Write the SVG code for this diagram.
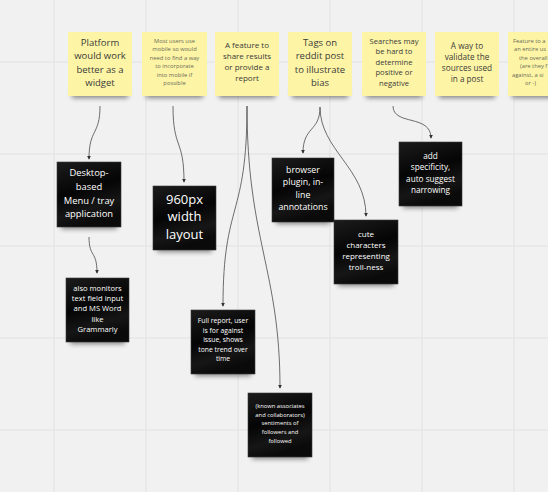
<svg xmlns="http://www.w3.org/2000/svg" width="548" height="492" viewBox="0 0 548 492">
<defs>
<style>
.grid{stroke:#e1e1e1;stroke-width:1}
.sticky{fill:#fdf5a5}
.dark{fill:url(#dk);stroke:#3a3a3a;stroke-width:0.6}
.shadow{fill:#000;opacity:0.45;filter:url(#blur)}
.yt{font-family:"Open Sans","Noto Sans",sans-serif;fill:#3a3a3a;text-anchor:middle}
.yt2{font-family:"Open Sans","Noto Sans",sans-serif;fill:#6a6a5a;text-anchor:middle}
.wt{font-family:"Open Sans","Noto Sans",sans-serif;fill:#ffffff;text-anchor:middle}
.conn{fill:none;stroke:#4a4a4a;stroke-width:0.8;marker-end:url(#arr)}
</style>
<linearGradient id="dk" x1="0" y1="0" x2="0.3" y2="1">
<stop offset="0" stop-color="#1c1c1c"/>
<stop offset="0.5" stop-color="#050505"/>
<stop offset="0.8" stop-color="#161616"/>
<stop offset="1" stop-color="#0a0a0a"/>
</linearGradient>
<filter id="blur" x="-30%" y="-100%" width="160%" height="300%"><feGaussianBlur stdDeviation="2.5"/></filter>
<marker id="arr" viewBox="0 0 6 6" refX="5" refY="3" markerWidth="4" markerHeight="4" markerUnits="userSpaceOnUse" orient="auto"><path d="M0,0 L6,3 L0,6 z" fill="#333"/></marker>
</defs>
<rect width="548" height="492" fill="#f1f1f1"/>
<g id="grid">
<line class="grid" x1="54" y1="0" x2="54" y2="492"/>
<line class="grid" x1="146" y1="0" x2="146" y2="492"/>
<line class="grid" x1="238" y1="0" x2="238" y2="492"/>
<line class="grid" x1="330" y1="0" x2="330" y2="492"/>
<line class="grid" x1="422" y1="0" x2="422" y2="492"/>
<line class="grid" x1="514" y1="0" x2="514" y2="492"/>
<line class="grid" x1="0" y1="62" x2="548" y2="62"/>
<line class="grid" x1="0" y1="154" x2="548" y2="154"/>
<line class="grid" x1="0" y1="246" x2="548" y2="246"/>
<line class="grid" x1="0" y1="338" x2="548" y2="338"/>
<line class="grid" x1="0" y1="430" x2="548" y2="430"/>
</g>
<g id="connectors">
<path class="conn" d="M100,106 C100,136 89,128 89,159"/>
<path class="conn" d="M89,237 C89,258 97,250 97,273"/>
<path class="conn" d="M173,106 C173,150 184,138 184,182"/>
<path class="conn" d="M247,106 C247,220 223,200 223,306"/>
<path class="conn" d="M247,106 C247,240 280,270 280,388"/>
<path class="conn" d="M320,107 C320,132 303,126 303,153"/>
<path class="conn" d="M320,107 C320,150 366,168 366,216"/>
<path class="conn" d="M393,106 C393,126 431,114 431,138"/>
</g>
<g id="n-platform">
<rect class="shadow" x="72" y="88" width="56" height="10"/>
<rect class="sticky" x="68" y="32" width="64" height="64"/>
<text class="yt" font-size="9.5"><tspan x="100" y="45.5">Platform</tspan><tspan x="100" y="59">would work</tspan><tspan x="100" y="72.5">better as a</tspan><tspan x="100" y="86">widget</tspan></text>
</g>
<g id="n-mobile">
<rect class="shadow" x="146" y="88" width="57" height="10"/>
<rect class="sticky" x="142" y="32" width="65" height="64"/>
<text class="yt2" font-size="5.8"><tspan x="174.5" y="43">Most users use</tspan><tspan x="174.5" y="51.4">mobile so would</tspan><tspan x="174.5" y="59.8">need to find a way</tspan><tspan x="174.5" y="68.2">to incorporate</tspan><tspan x="174.5" y="76.6">into mobile if</tspan><tspan x="174.5" y="85">possible</tspan></text>
</g>
<g id="n-report">
<rect class="shadow" x="219" y="88" width="56" height="10"/>
<rect class="sticky" x="215" y="32" width="64" height="64"/>
<text class="yt" font-size="8"><tspan x="247" y="48">A feature to</tspan><tspan x="247" y="59">share results</tspan><tspan x="247" y="70">or provide a</tspan><tspan x="247" y="81">report</tspan></text>
</g>
<g id="n-tags">
<rect class="shadow" x="292" y="88" width="56" height="10"/>
<rect class="sticky" x="288" y="32" width="64" height="64"/>
<text class="yt" font-size="9.5"><tspan x="320" y="45.5">Tags on</tspan><tspan x="320" y="59">reddit post</tspan><tspan x="320" y="72.5">to illustrate</tspan><tspan x="320" y="86">bias</tspan></text>
</g>
<g id="n-searches">
<rect class="shadow" x="366" y="88" width="56" height="10"/>
<rect class="sticky" x="362" y="32" width="64" height="64"/>
<text class="yt" font-size="7.6"><tspan x="394" y="43.7">Searches may</tspan><tspan x="394" y="54.2">be hard to</tspan><tspan x="394" y="64.7">determine</tspan><tspan x="394" y="75.2">positive or</tspan><tspan x="394" y="85.7">negative</tspan></text>
</g>
<g id="n-validate">
<rect class="shadow" x="439" y="88" width="56" height="10"/>
<rect class="sticky" x="435" y="32" width="64" height="64"/>
<text class="yt" font-size="8.2"><tspan x="467" y="49">A way to</tspan><tspan x="467" y="60">validate the</tspan><tspan x="467" y="71">sources used</tspan><tspan x="467" y="82">in a post</tspan></text>
</g>
<g id="n-feature">
<rect class="shadow" x="512" y="88" width="56" height="10"/>
<rect class="sticky" x="508" y="32" width="64" height="64"/>
<text class="yt2" font-size="5.8" style="text-anchor:start"><tspan x="513" y="43">Feature to a</tspan><tspan x="514" y="51.4">an entire us</tspan><tspan x="519" y="59.8">the overall</tspan><tspan x="520" y="68.2">(are they f</tspan><tspan x="512" y="76.6">against, a si</tspan><tspan x="525" y="85">or -)</tspan></text>
</g>
<g id="n-desktop">
<rect class="shadow" x="61" y="219" width="56" height="10"/>
<rect class="dark" x="57" y="162" width="64" height="65"/>
<text class="wt" font-size="9.4"><tspan x="89" y="176.3">Desktop-</tspan><tspan x="89" y="190">based</tspan><tspan x="89" y="203.5">Menu / tray</tspan><tspan x="89" y="217">application</tspan></text>
</g>
<g id="n-960">
<rect class="shadow" x="157" y="242" width="55" height="10"/>
<rect class="dark" x="153" y="186" width="63" height="64"/>
<text class="wt" font-size="13"><tspan x="184.5" y="203.5">960px</tspan><tspan x="184.5" y="221">width</tspan><tspan x="184.5" y="238.5">layout</tspan></text>
</g>
<g id="n-browser">
<rect class="shadow" x="276" y="214" width="54" height="10"/>
<rect class="dark" x="272" y="158" width="62" height="64"/>
<text class="wt" font-size="8.8"><tspan x="303" y="173">browser</tspan><tspan x="303" y="185.3">plugin, in-</tspan><tspan x="303" y="197.6">line</tspan><tspan x="303" y="210">annotations</tspan></text>
</g>
<g id="n-cute">
<rect class="shadow" x="338" y="276" width="56" height="10"/>
<rect class="dark" x="334" y="220" width="64" height="64"/>
<text class="wt" font-size="8"><tspan x="366" y="236.8">cute</tspan><tspan x="366" y="247.8">characters</tspan><tspan x="366" y="258.8">representing</tspan><tspan x="366" y="269.8">troll-ness</tspan></text>
</g>
<g id="n-add">
<rect class="shadow" x="403" y="198" width="55" height="10"/>
<rect class="dark" x="399" y="142" width="63" height="64"/>
<text class="wt" font-size="8.2"><tspan x="430.5" y="158.9">add</tspan><tspan x="430.5" y="170.2">specificity,</tspan><tspan x="430.5" y="181.5">auto suggest</tspan><tspan x="430.5" y="192.8">narrowing</tspan></text>
</g>
<g id="n-monitors">
<rect class="shadow" x="70" y="334" width="55" height="10"/>
<rect class="dark" x="66" y="278" width="63" height="64"/>
<text class="wt" font-size="7.6"><tspan x="97.5" y="290.7">also monitors</tspan><tspan x="97.5" y="301">text field input</tspan><tspan x="97.5" y="311.3">and MS Word</tspan><tspan x="97.5" y="321.6">like</tspan><tspan x="97.5" y="332">Grammarly</tspan></text>
</g>
<g id="n-full">
<rect class="shadow" x="195" y="366" width="56" height="10"/>
<rect class="dark" x="191" y="310" width="64" height="64"/>
<text class="wt" font-size="6.8"><tspan x="223" y="323.4">Full report, user</tspan><tspan x="223" y="332.9">is for against</tspan><tspan x="223" y="342.4">issue, shows</tspan><tspan x="223" y="351.9">tone trend over</tspan><tspan x="223" y="361.4">time</tspan></text>
</g>
<g id="n-known">
<rect class="shadow" x="252" y="449" width="56" height="10"/>
<rect class="dark" x="248" y="393" width="64" height="64"/>
<text class="wt" font-size="5.8"><tspan x="280" y="408">(known associates</tspan><tspan x="280" y="416.7">and collaborators)</tspan><tspan x="280" y="425.4">sentiments of</tspan><tspan x="280" y="434.1">followers and</tspan><tspan x="280" y="442.8">followed</tspan></text>
</g>
</svg>
